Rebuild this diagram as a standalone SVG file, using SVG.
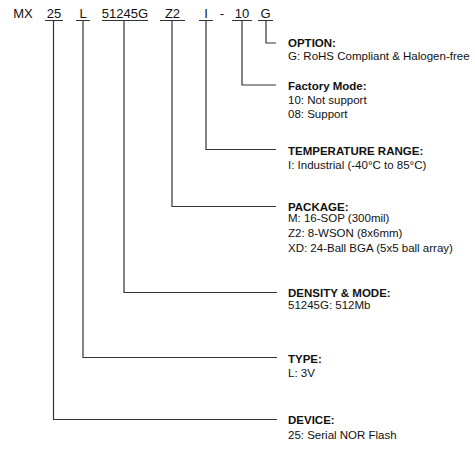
<svg xmlns="http://www.w3.org/2000/svg" width="475" height="452" viewBox="0 0 475 452">
<style>
.top{font-family:"Liberation Sans",Arial,sans-serif;font-size:13px;fill:#111;text-anchor:middle}
.h{font-family:"Liberation Sans",Arial,sans-serif;font-size:11.5px;font-weight:bold;fill:#111}
.t{font-family:"Liberation Sans",Arial,sans-serif;font-size:11.5px;fill:#111}
.ln{fill:none;stroke:#333;stroke-width:1.2}
</style>
<rect width="475" height="452" fill="#fff"/>
<g id="partnumber">
<text class="top" x="23" y="18">MX</text>
<text class="top" x="54" y="18">25</text>
<text class="top" x="83" y="18">L</text>
<text class="top" x="125" y="18">51245G</text>
<text class="top" x="172.5" y="18">Z2</text>
<text class="top" x="206" y="18">I</text>
<text class="top" x="222" y="18">-</text>
<text class="top" x="242" y="18">10</text>
<text class="top" x="265.5" y="18">G</text>
</g>
<g id="connectors">
<path class="ln" d="M45 20.5H63M53.5 20.5V419.5H277"/>
<path class="ln" d="M76 20.5H90M83 20.5V357.5H277"/>
<path class="ln" d="M102 20.5H148M124 20.5V292.5H277"/>
<path class="ln" d="M160 20.5H185M172 20.5V206.5H276"/>
<path class="ln" d="M199 20.5H213M206 20.5V149.5H276"/>
<path class="ln" d="M232 20.5H252M242 20.5V85H276"/>
<path class="ln" d="M258 20.5H273M266 20.5V43H276"/>
</g>
<g id="option">
<text class="h" x="288" y="47">OPTION:</text>
<text class="t" x="288" y="60">G: RoHS Compliant &amp; Halogen-free</text>
</g>
<g id="factory-mode">
<text class="h" x="288" y="90">Factory Mode:</text>
<text class="t" x="288" y="104">10: Not support</text>
<text class="t" x="288" y="118">08: Support</text>
</g>
<g id="temperature">
<text class="h" x="288" y="154.5">TEMPERATURE RANGE:</text>
<text class="t" x="288" y="168.5">I: Industrial (-40°C to 85°C)</text>
</g>
<g id="package">
<text class="h" x="288" y="210.5">PACKAGE:</text>
<text class="t" x="288" y="221.5">M: 16-SOP (300mil)</text>
<text class="t" x="288" y="236.5">Z2: 8-WSON (8x6mm)</text>
<text class="t" x="288" y="251.5">XD: 24-Ball BGA (5x5 ball array)</text>
</g>
<g id="density">
<text class="h" x="288" y="297">DENSITY &amp; MODE:</text>
<text class="t" x="288" y="308.5">51245G: 512Mb</text>
</g>
<g id="type">
<text class="h" x="288" y="362.5">TYPE:</text>
<text class="t" x="288" y="377">L: 3V</text>
</g>
<g id="device">
<text class="h" x="288" y="424">DEVICE:</text>
<text class="t" x="288" y="439">25: Serial NOR Flash</text>
</g>
</svg>
